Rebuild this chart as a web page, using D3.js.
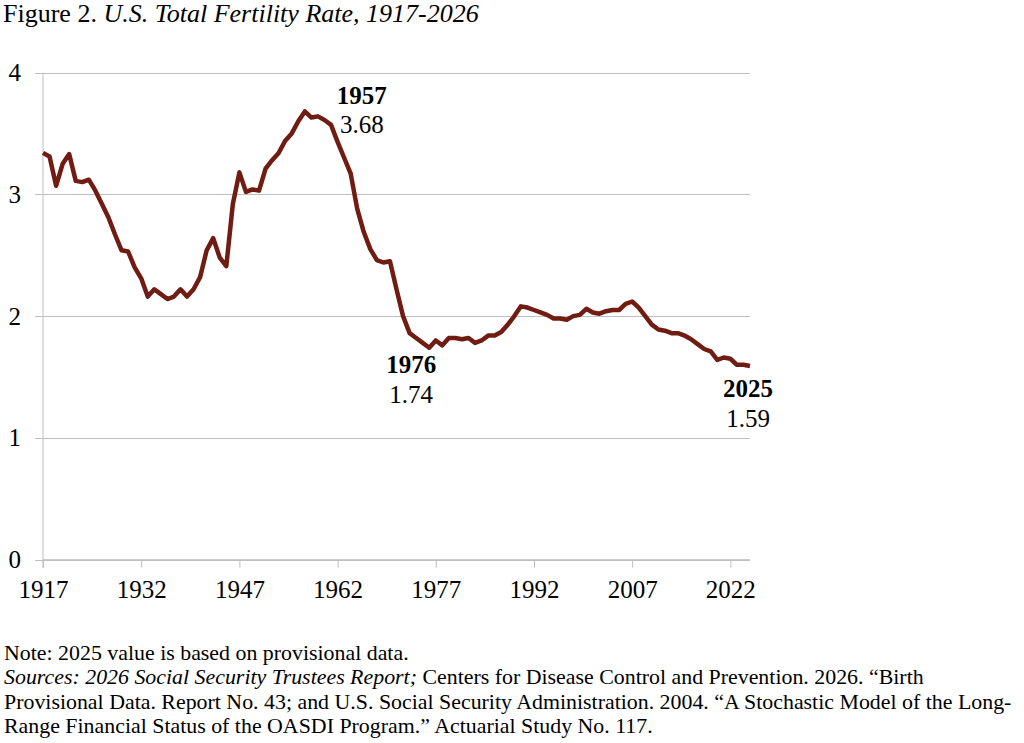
<!DOCTYPE html>
<html>
<head>
<meta charset="utf-8">
<script src="https://cdn.jsdelivr.net/npm/d3@7"></script>
<style>
  body { margin: 0; background: #fff; }
  svg { display: block; }
  text { font-family: "Liberation Serif", "Times New Roman", serif; fill: #000; }
</style>
</head>
<body>
<svg id="chart" width="1024" height="743"></svg>
<script>
// years 1917..2025, total fertility rate
const startYear = 1917
const tfr = [
  3.34, 3.31, 3.07, 3.25, 3.33, 3.11, 3.10, 3.12, 3.03, 2.92, // 1917-1926
  2.81, 2.67, 2.54, 2.53, 2.40, 2.31, 2.16, 2.22, 2.18, 2.14, // 1927-1936
  2.16, 2.22, 2.16, 2.22, 2.32, 2.54, 2.64, 2.48, 2.41, 2.92, // 1937-1946
  3.18, 3.02, 3.04, 3.03, 3.21, 3.28, 3.34, 3.44, 3.50, 3.60, // 1947-1956
  3.68, 3.63, 3.64, 3.61, 3.57, 3.43, 3.30, 3.17, 2.88, 2.69, // 1957-1966
  2.55, 2.46, 2.44, 2.45, 2.22, 2.00, 1.86, 1.82, 1.78, 1.74, // 1967-1976
  1.80, 1.76, 1.82, 1.82, 1.81, 1.82, 1.78, 1.80, 1.84, 1.84, // 1977-1986
  1.87, 1.93, 2.00, 2.08, 2.07, 2.05, 2.03, 2.01, 1.98, 1.98, // 1987-1996
  1.97, 2.00, 2.01, 2.06, 2.03, 2.02, 2.04, 2.05, 2.05, 2.10, // 1997-2006
  2.12, 2.07, 2.00, 1.93, 1.89, 1.88, 1.86, 1.86, 1.84, 1.81, // 2007-2016
  1.77, 1.73, 1.71, 1.64, 1.66, 1.65, 1.60, 1.60, 1.59        // 2017-2025
]
const xTicks = [1917, 1932, 1947, 1962, 1977, 1992, 2007, 2022]
const yTicks = [0, 1, 2, 3, 4]
const callouts = [
  { year: 1957, value: 3.68 },
  { year: 1976, value: 1.74 },
  { year: 2025, value: 1.59 }
]
const noteLines = [
  [{ t: "Note: 2025 value is based on provisional data.", i: false }],
  [{ t: "Sources: 2026 Social Security Trustees Report;", i: true },
   { t: " Centers for Disease Control and Prevention. 2026. \u201cBirth", i: false }],
  [{ t: "Provisional Data. Report No. 43; and U.S. Social Security Administration. 2004. \u201cA Stochastic Model of the Long-", i: false }],
  [{ t: "Range Financial Status of the OASDI Program.\u201d Actuarial Study No. 117.", i: false }]
]

const data = tfr.map((v, i) => ({ year: startYear + i, value: v }))

const svg = d3.select("#chart")
const LEFT = 43, RIGHT = 750, TOP = 72.5, BOTTOM = 559.7
const GRID = "#bfbfbf"

let xs = d3.scaleLinear().domain([1917, 2025]).range([LEFT, RIGHT])
let ys = d3.scaleLinear().domain([0, 4]).range([BOTTOM, TOP])

// title
let title = svg.append("text").attr("x", 3).attr("y", 22).style("font-size", "26px")
title.append("tspan").text("Figure 2. ")
title.append("tspan").style("font-style", "italic").text("U.S. Total Fertility Rate, 1917-2026")

// y gridlines + labels
let yAxis = svg.append("g")
  .attr("transform", `translate(${RIGHT},0)`)
  .call(d3.axisLeft(ys).tickValues(yTicks).tickSize(RIGHT - LEFT + 8).tickPadding(14).tickFormat(d3.format("d")))
yAxis.select(".domain").remove()
yAxis.selectAll(".tick line").attr("stroke", GRID).attr("shape-rendering", "crispEdges")
yAxis.selectAll(".tick text")
  .style("font-size", "25px")
  .style("font-family", "\"Liberation Serif\", serif")
  .attr("fill", "#000")

// x axis with tick marks hanging below
let xAxis = svg.append("g")
  .attr("transform", `translate(0,${BOTTOM})`)
  .call(d3.axisBottom(xs).tickValues(xTicks).tickSize(8).tickPadding(13).tickFormat(d3.format("d")))
xAxis.select(".domain").attr("stroke", GRID).attr("d", `M${LEFT},0H${RIGHT}`)
xAxis.selectAll(".tick line").attr("stroke", GRID)
xAxis.selectAll(".tick text")
  .style("font-size", "25px")
  .style("font-family", "\"Liberation Serif\", serif")
  .attr("fill", "#000")

// vertical axis line
svg.append("line")
  .attr("x1", LEFT).attr("x2", LEFT)
  .attr("y1", TOP).attr("y2", BOTTOM + 8)
  .attr("stroke", GRID)

// the series
let line = d3.line().x(d => xs(d.year)).y(d => ys(d.value))
svg.append("path")
  .datum(data)
  .attr("d", line)
  .attr("fill", "none")
  .attr("stroke", "#701c12")
  .attr("stroke-width", 4.5)
  .attr("stroke-linejoin", "round")

// callouts: bold year over value
const calloutOffset = { 1957: [57, -7, 22], 1976: [-18, 25, 55], 2025: [-2, 31, 61] }
callouts.forEach(c => {
  const [dx, y1, y2] = calloutOffset[c.year]
  const cx = xs(c.year) + dx, cy = ys(c.value)
  svg.append("text").attr("x", cx).attr("y", cy + y1)
    .attr("text-anchor", "middle").style("font-size", "25px").style("font-weight", "bold")
    .text(c.year)
  svg.append("text").attr("x", cx).attr("y", cy + y2)
    .attr("text-anchor", "middle").style("font-size", "25px")
    .text(c.value.toFixed(2))
})

// footnote
let note = svg.append("g").attr("transform", "translate(4,0)")
let rows = noteLines.map((parts, i) => {
  let t = note.append("text").attr("x", 0).attr("y", 660 + i * 24.3).style("font-size", "20px")
  parts.forEach(p => t.append("tspan").style("font-style", p.i ? "italic" : "normal").text(p.t))
  return t
})
const k = 1008 / rows[2].node().getComputedTextLength()
note.attr("transform", `translate(4,0) scale(${k},1)`)
</script>
</body>
</html>
